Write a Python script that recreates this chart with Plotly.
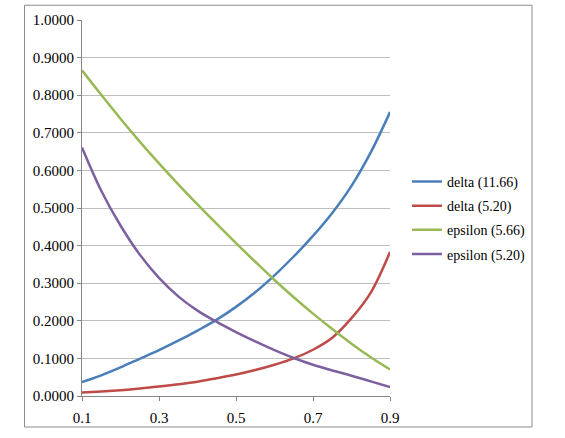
import plotly.graph_objects as go

x_vals = [0.10, 0.15, 0.20, 0.25, 0.30, 0.35, 0.40, 0.45, 0.50, 0.55, 0.60, 0.65, 0.70, 0.75, 0.80, 0.85, 0.90]

delta_1166 = [0.037, 0.055, 0.076, 0.099, 0.122, 0.147, 0.174, 0.203, 0.237, 0.276, 0.321, 0.371, 0.426, 0.487, 0.559, 0.648, 0.755]
delta_520 = [0.009, 0.012, 0.0155, 0.020, 0.025, 0.031, 0.038, 0.047, 0.057, 0.069, 0.083, 0.100, 0.123, 0.155, 0.207, 0.275, 0.383]
epsilon_566 = [0.866, 0.801, 0.7375, 0.6765, 0.6185, 0.563, 0.5095, 0.4575, 0.4065, 0.357, 0.3085, 0.2625, 0.219, 0.178, 0.139, 0.103, 0.0705]
epsilon_520 = [0.661, 0.546, 0.4535, 0.376, 0.314, 0.265, 0.227, 0.197, 0.170, 0.145, 0.122, 0.101, 0.083, 0.068, 0.054, 0.039, 0.024]

series_names = ["delta (11.66)", "delta (5.20)", "epsilon (5.66)", "epsilon (5.20)"]
series_values = [delta_1166, delta_520, epsilon_566, epsilon_520]
series_colors = ["#4A7EBB", "#BE4B48", "#98B954", "#7D60A0"]

y_ticks = [i / 10 for i in range(11)]
x_ticks = [0.1, 0.3, 0.5, 0.7, 0.9]

fig = go.Figure()
for name, vals, col in zip(series_names, series_values, series_colors):
    fig.add_trace(go.Scatter(
        x=x_vals, y=vals, name=name, mode="lines",
        line=dict(color=col, width=2.5, shape="spline", smoothing=1.0),
        legendgroup=name,
    ))

font_family = "'Liberation Serif', 'Times New Roman', Times, serif"
W, H = 565, 438
L, R, T, B = 82, 390, 18, 400
pw, ph = R - L, B - T

def px2paper_x(px):
    return (px - L) / pw

def px2paper_y(py):
    return (B - py) / ph

fig.update_layout(
    width=W, height=H,
    margin=dict(l=L, r=W - R, t=T, b=H - B),
    paper_bgcolor="white", plot_bgcolor="white",
    font=dict(family=font_family, size=15, color="black"),
    showlegend=True,
    legend=dict(
        x=px2paper_x(407), y=px2paper_y(219), xanchor="left", yanchor="middle",
        font=dict(family=font_family, size=14, color="black"),
        bgcolor="rgba(0,0,0,0)", traceorder="grouped", tracegroupgap=3,
    ),
    xaxis=dict(
        range=[0.1, 0.9], tickvals=x_ticks, ticktext=[f"{v:.1f}" for v in x_ticks],
        showgrid=False, zeroline=False, showline=True, linecolor="#868686", linewidth=1,
        ticks="outside", ticklen=4, tickcolor="#868686", ticklabelstandoff=4,
        tickfont=dict(family=font_family, size=15),
    ),
    yaxis=dict(
        range=[0, 1], tickvals=y_ticks, ticktext=[f"{v:.4f}" for v in y_ticks],
        showgrid=True, gridcolor="#BEBEBE", gridwidth=1, zeroline=False,
        showline=True, linecolor="#868686", linewidth=1,
        ticks="outside", ticklen=4, tickcolor="#868686",
        tickfont=dict(family=font_family, size=15),
    ),
    shapes=[dict(
        type="rect", xref="paper", yref="paper",
        x0=px2paper_x(24.5), x1=px2paper_x(532), y0=px2paper_y(431.5), y1=px2paper_y(3),
        line=dict(color="#8C8C8C", width=1), fillcolor="rgba(0,0,0,0)", layer="below",
    )],
)

fig.write_html("out.html")
